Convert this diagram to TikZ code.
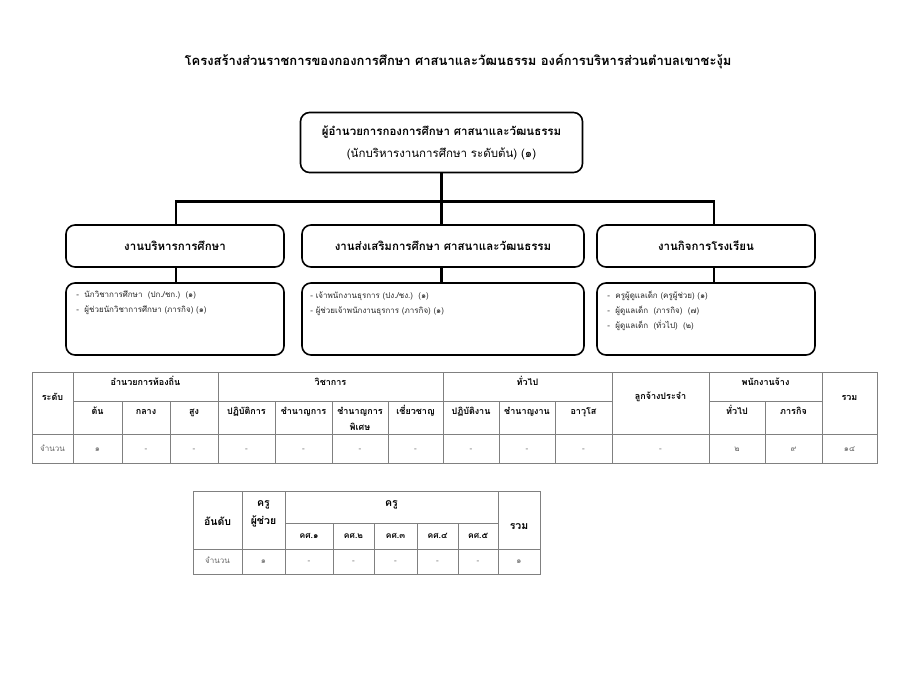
\documentclass[tikz,border=0pt]{standalone}
\usepackage{fontspec}
\setmainfont[Script=Thai]{Loma}
\begin{document}
\begin{tikzpicture}[x=1pt,y=-1pt,
  box/.style={draw, line width=1.6pt, rounded corners=9pt, inner sep=0pt, align=center},
  conn/.style={line width=2.2pt},
  listtxt/.style={inner sep=0pt, align=left, font=\fontsize{8}{15}\selectfont, text=black!85},
  tline/.style={draw=black!50, line width=0.8pt},
  th/.style={inner sep=0pt, anchor=base, font=\bfseries\fontsize{9}{11}\selectfont},
  td/.style={inner sep=0pt, anchor=base, font=\fontsize{8}{10}\selectfont, text=black!60},
  thb/.style={inner sep=0pt, anchor=base, font=\bfseries\fontsize{10.5}{12}\selectfont},
  ths/.style={inner sep=0pt, anchor=base, font=\bfseries\fontsize{8.5}{10}\selectfont}]
\useasboundingbox (0,0) rectangle (900,695);
\fill[white] (0,0) rectangle (900,695);

% title
\node[inner sep=0pt, anchor=base, font=\bfseries\fontsize{13}{15}\selectfont] (title) at (458,66)
  {โครงสร้างส่วนราชการของกองการศึกษา ศาสนาและวัฒนธรรม องค์การบริหารส่วนตำบลเขาชะงุ้ม};

% top box
\node[box, minimum width=282pt, minimum height=60pt, font=\fontsize{11.5}{22}\selectfont] (top) at (441.5,142.5)
  {\textbf{ผู้อำนวยการกองการศึกษา ศาสนาและวัฒนธรรม}\\(นักบริหารงานการศึกษา ระดับต้น) (๑)};

% middle boxes
\node[box, minimum width=218pt, minimum height=42pt, font=\bfseries\fontsize{11.5}{13}\selectfont] (m1) at (175,246) {งานบริหารการศึกษา};
\node[box, minimum width=282pt, minimum height=42pt, font=\bfseries\fontsize{11.5}{13}\selectfont] (m2) at (443,246) {งานส่งเสริมการศึกษา ศาสนาและวัฒนธรรม};
\node[box, minimum width=218pt, minimum height=42pt, font=\bfseries\fontsize{11.5}{13}\selectfont] (m3) at (706,246) {งานกิจการโรงเรียน};

% lower boxes
\node[box, minimum width=218pt, minimum height=72pt] (l1) at (175,319) {};
\node[box, minimum width=282pt, minimum height=72pt] (l2) at (443,319) {};
\node[box, minimum width=218pt, minimum height=72pt] (l3) at (706,319) {};
\node[listtxt, anchor=north west] (l1t) at ([shift={(11,9)}]l1.north west)
  {-\ \ นักวิชาการศึกษา\ \ (ปก./ชก.)\ \ (๑)\\-\ \ ผู้ช่วยนักวิชาการศึกษา (ภารกิจ) (๑)};
\node[listtxt, anchor=north west] (l2t) at ([shift={(9,9)}]l2.north west)
  {- เจ้าพนักงานธุรการ (ปง./ชง.)\ \ (๑)\\- ผู้ช่วยเจ้าพนักงานธุรการ (ภารกิจ) (๑)};
\node[listtxt, anchor=north west] (l3t) at ([shift={(11,9)}]l3.north west)
  {-\ \ ครูผู้ดูแลเด็ก (ครูผู้ช่วย) (๑)\\-\ \ ผู้ดูแลเด็ก\ \ (ภารกิจ)\ \ (๗)\\-\ \ ผู้ดูแลเด็ก\ \ (ทั่วไป)\ \ (๒)};

% connectors
\coordinate (j) at (441.5,201.5);
\coordinate (c1) at (176,201.5);
\coordinate (c3) at (714,201.5);
\draw[conn] (top.south) -- (j);
\draw[conn] (c1 |- m1.north) -- (c1) -- (c3) -- (c3 |- m3.north);
\draw[conn] (j) -- (j |- m2.north);
\draw[conn] (c1 |- m1.south) -- (c1 |- l1.north);
\draw[conn] (j |- m2.south) -- (j |- l2.north);
\draw[conn] (c3 |- m3.south) -- (c3 |- l3.north);

% table 1 lines
\draw[tline] (32,372) rectangle (877,463);
\draw[tline] (73,401) -- (612,401) (709,401) -- (822,401);
\draw[tline] (32,434) -- (877,434);
\foreach \x in {73,218,443,612,709,822} \draw[tline] (\x,372) -- (\x,463);
\foreach \x in {122,170,275,332,388,499,555,765} \draw[tline] (\x,401) -- (\x,463);

% table 1 headers
\node[th] (h0) at (52.5,400) {ระดับ};
\node[th] (g1) at (145.5,385) {อำนวยการท้องถิ่น};
\node[th] (g2) at (330.5,385) {วิชาการ};
\node[th] (g3) at (527.5,385) {ทั่วไป};
\node[th] (g4) at (660.5,399) {ลูกจ้างประจำ};
\node[th] (g5) at (765.5,385) {พนักงานจ้าง};
\node[th] (g6) at (849.5,400) {รวม};
\foreach \x/\t [count=\i] in {97.5/ต้น,146/กลาง,194/สูง,246.5/ปฏิบัติการ,303.5/ชำนาญการ,360/ชำนาญการ,415.5/เชี่ยวชาญ,471/ปฏิบัติงาน,527/ชำนาญงาน,583.5/อาวุโส,737/ทั่วไป,793.5/ภารกิจ}
  \node[th] (s\i) at (\x,414) {\t};
\node[th] (s6b) at (360,430) {พิเศษ};

% table 1 data
\node[td] (d0) at (52.5,451.5) {จำนวน};
\foreach \x/\t [count=\i] in {97.5/๑,146/-,194/-,246.5/-,303.5/-,360/-,415.5/-,471/-,527/-,583.5/-,660.5/-,737/๒,793.5/๙,849.5/๑๔}
  \node[td] (d\i) at (\x,451.5) {\t};

% table 2 lines
\draw[tline] (193,491) rectangle (540,574);
\draw[tline] (285,523) -- (498,523);
\draw[tline] (193,549) -- (540,549);
\foreach \x in {242,285,498} \draw[tline] (\x,491) -- (\x,574);
\foreach \x in {333,374,417,458} \draw[tline] (\x,523) -- (\x,574);

% table 2 headers
\node[thb] (k0) at (217.5,525.5) {อันดับ};
\node[thb] (k1) at (263.5,506.5) {ครู};
\node[thb] (k1b) at (263.5,524.5) {ผู้ช่วย};
\node[thb] (k2) at (391.5,506.5) {ครู};
\node[thb] (k3) at (519,529.5) {รวม};
\foreach \x/\t [count=\i] in {309/คศ.๑,353.5/คศ.๒,395.5/คศ.๓,437.5/คศ.๔,478/คศ.๕}
  \node[ths] (q\i) at (\x,538) {\t};

% table 2 data
\node[td] (e0) at (217.5,563.5) {จำนวน};
\foreach \x/\t [count=\i] in {263.5/๑,309/-,353.5/-,395.5/-,437.5/-,478/-,519/๑}
  \node[td] (e\i) at (\x,563.5) {\t};
\end{tikzpicture}
\end{document}
